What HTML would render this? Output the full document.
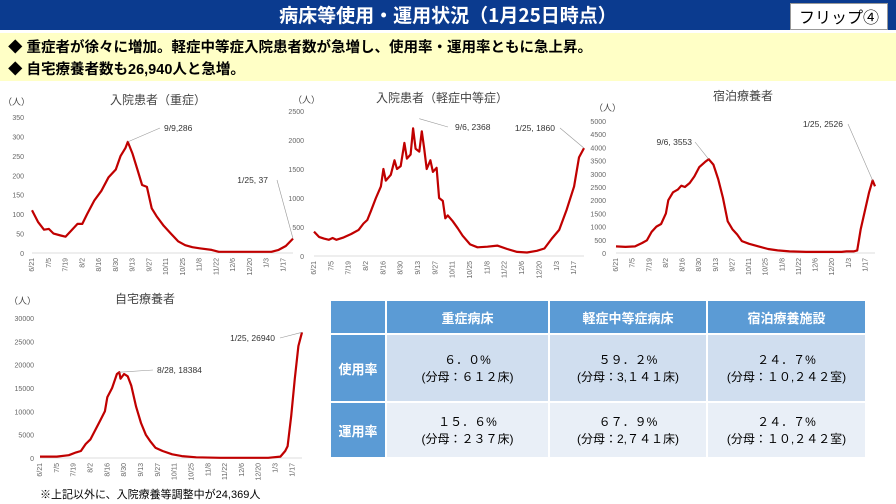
<!DOCTYPE html>
<html><head><meta charset="utf-8"><style>
body{margin:0;width:896px;height:504px;overflow:hidden;background:#fff;font-family:"Liberation Sans","Noto Sans CJK JP",sans-serif;position:relative}
.hdr{position:absolute;left:0;top:0;width:896px;height:30px;background:#0b3b8f;color:#fff;font-size:19px;font-weight:bold;text-align:center;line-height:30px;font-family:"Noto Sans CJK JP",sans-serif}
.flip{position:absolute;right:8px;top:3px;width:96px;height:25px;background:#fff;border:1px solid #999;color:#000;font-size:16px;line-height:25px;text-align:center;font-weight:normal}
.band{position:absolute;left:0;top:33px;width:896px;height:48px;background:#ffffc6;font-size:14.5px;font-weight:bold;color:#000}
.band div{position:absolute;left:8px}
table{position:absolute;left:329px;top:299px;border-collapse:collapse;font-size:12px}
td{border:2px solid #fff;text-align:center;color:#000}
.h{background:#5b9bd5;color:#fff;font-weight:bold;font-size:13px}
.r1{background:#d0deef}.r2{background:#e9eff7}
.note{position:absolute;left:40px;top:486px;font-size:11px}
</style></head><body>
<div class="hdr">病床等使用・運用状況（1月25日時点）<div class="flip">フリップ④</div></div>
<div class="band"><div style="top:3px">◆ 重症者が徐々に増加。軽症中等症入院患者数が急増し、使用率・運用率ともに急上昇。</div><div style="top:25px">◆ 自宅療養者数も26,940人と急増。</div></div>
<svg id="s" width="896" height="504" style="position:absolute;left:0;top:0" font-family="Liberation Sans, Noto Sans CJK JP, sans-serif"></svg>
<table>
<tr style="height:34px"><td class="h" style="width:52px"></td><td class="h" style="width:159px">重症病床</td><td class="h" style="width:154px">軽症中等症病床</td><td class="h" style="width:155px">宿泊療養施設</td></tr>
<tr style="height:68px"><td class="h">使用率</td><td class="r1">６．０%<br>(分母：６１２床)</td><td class="r1">５９．２%<br>(分母：3,１４１床)</td><td class="r1">２４．７%<br>(分母：１０,２４２室)</td></tr>
<tr style="height:56px"><td class="h">運用率</td><td class="r2">１５．６%<br>(分母：２３７床)</td><td class="r2">６７．９%<br>(分母：2,７４１床)</td><td class="r2">２４．７%<br>(分母：１０,２４２室)</td></tr>
</table>
<div class="note">※上記以外に、入院療養等調整中が24,369人</div>
<script>
var s=document.getElementById('s'),h='';
var dates=['6/21','7/5','7/19','8/2','8/16','8/30','9/13','9/27','10/11','10/25','11/8','11/22','12/6','12/20','1/3','1/17'];
function chart(c){
 var X=function(d){return c.x0+d/218*(c.x1-c.x0)},Y=function(v){return c.y0-v/c.max*(c.y0-c.yt)};
 for(var v=0;v<=c.max;v+=c.step){h+='<text x="'+c.lx+'" y="'+(Y(v)+3)+'" font-size="7" fill="#666" text-anchor="end">'+v+'</text>';}
 h+='<line x1="'+c.x0+'" x2="'+c.x1+'" y1="'+c.y0+'" y2="'+c.y0+'" stroke="#ddd"/>';
 dates.forEach(function(d,i){var x=X(i*14)+2;h+='<text transform="translate('+x+','+(c.y0+5)+') rotate(-90)" font-size="7" fill="#666" text-anchor="end">'+d+'</text>';});
 var p=c.d.map(function(q){return X(q[0]).toFixed(1)+','+Y(q[1]).toFixed(1)}).join(' ');
 h+='<polyline points="'+p+'" fill="none" stroke="#c00000" stroke-width="2.2" stroke-linejoin="round"/>';
 h+='<text x="'+c.tx+'" y="'+c.ty+'" font-size="12" fill="#444" text-anchor="middle">'+c.t+'</text>';
 h+='<text x="'+c.ux+'" y="'+c.uy+'" font-size="9" fill="#444">（人）</text>';
 c.a.forEach(function(a){var px=X(a[0]),py=Y(a[1]);h+='<line x1="'+px+'" y1="'+py+'" x2="'+a[3]+'" y2="'+a[4]+'" stroke="#999" stroke-width="0.6"/><text x="'+a[5]+'" y="'+(a[4]+3)+'" font-size="8.5" fill="#333" text-anchor="'+a[6]+'">'+a[2]+'</text>';});
}
chart({x0:32,x1:293,y0:253,yt:117,max:350,step:50,lx:24,t:'入院患者（重症）',tx:158,ty:104,ux:3,uy:105,
d:[[0,110],[5,80],[10,60],[14,62],[18,50],[24,45],[28,42],[32,55],[38,75],[42,75],[46,100],[52,135],[58,160],[64,195],[70,215],[74,250],[78,270],[80,286],[84,255],[88,215],[92,175],[96,170],[100,115],[104,95],[110,70],[116,50],[122,30],[128,20],[134,15],[140,12],[150,8],[156,3],[200,3],[206,8],[212,18],[218,37]],
a:[[80,286,'9/9,286',160,128,164,'start'],[218,37,'1/25, 37',277,180,268,'end']]});
chart({x0:314,x1:584,y0:256,yt:111,max:2500,step:500,lx:304,t:'入院患者（軽症中等症）',tx:442,ty:102,ux:293,uy:103,
d:[[0,420],[4,330],[8,300],[12,280],[15,310],[18,280],[24,320],[30,380],[36,450],[40,560],[43,620],[46,780],[50,1000],[54,1200],[56,1500],[58,1300],[62,1400],[65,1650],[67,1500],[70,1550],[73,1950],[75,1680],[78,1750],[80,2200],[82,1850],[85,1800],[87,2150],[89,1850],[91,1500],[94,1650],[96,1450],[99,1520],[101,1000],[104,950],[106,650],[108,700],[112,600],[116,480],[120,350],[126,200],[132,150],[140,160],[148,180],[156,120],[164,70],[172,60],[180,90],[186,130],[192,300],[198,450],[204,800],[210,1200],[214,1700],[218,1860]],
a:[[85,2368,'9/6, 2368',448,127,455,'start'],[218,1860,'1/25, 1860',560,128,555,'end']]});
chart({x0:616,x1:875,y0:253,yt:121,max:5000,step:500,lx:606,t:'宿泊療養者',tx:743,ty:100,ux:594,uy:111,
d:[[0,250],[8,230],[16,250],[22,380],[26,480],[30,800],[34,1000],[38,1100],[42,1500],[44,2000],[48,2300],[52,2400],[55,2550],[58,2500],[62,2650],[66,2900],[70,3250],[75,3450],[78,3553],[82,3350],[86,2800],[90,2100],[94,1200],[98,900],[102,700],[106,450],[112,350],[120,250],[128,150],[136,100],[146,60],[160,40],[190,40],[194,60],[200,60],[203,100],[206,900],[210,1700],[213,2300],[216,2750],[218,2526]],
a:[[78,3553,'9/6, 3553',695,142,692,'end'],[216,2750,'1/25, 2526',848,124,843,'end']]});
chart({x0:40,x1:302,y0:458,yt:318,max:30000,step:5000,lx:34,t:'自宅療養者',tx:145,ty:303,ux:9,uy:304,
d:[[0,300],[14,300],[24,600],[30,1200],[34,1500],[38,3000],[42,4000],[46,6000],[50,8000],[54,10000],[56,13000],[60,15000],[64,18000],[66,18384],[67,17000],[70,18000],[73,17500],[76,15500],[80,11000],[84,7500],[88,5000],[92,3500],[96,2200],[102,1500],[110,800],[118,400],[130,150],[150,50],[190,50],[200,300],[204,1500],[206,2500],[209,9000],[212,17000],[215,24000],[218,26940]],
a:[[66,18384,'8/28, 18384',153,370,157,'start'],[218,26940,'1/25, 26940',280,338,275,'end']]});
s.innerHTML=h;
</script>
</body></html>
